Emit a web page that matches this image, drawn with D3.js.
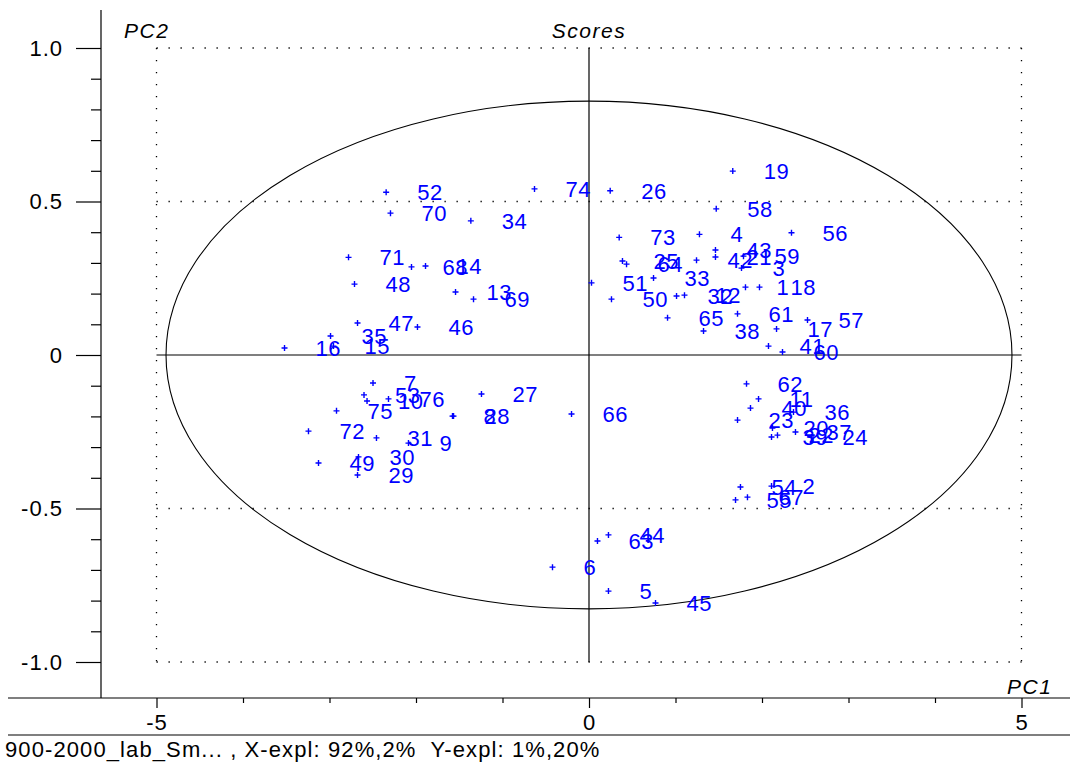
<!DOCTYPE html>
<html>
<head>
<meta charset="utf-8">
<script src="https://cdn.jsdelivr.net/npm/d3@7"></script>
<style>
  html, body { margin: 0; padding: 0; background: #fff; }
  svg { display: block; }
  text { font-family: Arial, "Liberation Sans", sans-serif; }
</style>
</head>
<body>
<svg id="chart" width="1070" height="764"></svg>
<script>
// PCA score plot: sample id, PC1 score, PC2 score
const sampleIds = [19, 26, 74, 52, 70, 34, 58, 73, 4, 56,
  43, 42, 21, 59, 3, 25, 64, 33, 51, 50,
  32, 12, 1, 18, 65, 38, 61, 17, 57, 41,
  60, 71, 68, 14, 48, 13, 69, 47, 46, 35,
  15, 16, 7, 53, 10, 76, 75, 72, 31, 9,
  8, 28, 27, 66, 49, 30, 29, 62, 11, 40,
  23, 36, 20, 37, 39, 22, 24, 54, 2, 55,
  67, 63, 44, 6, 5, 45];
const pc1Scores = [1.662, 0.245, -0.630, -2.345, -2.295, -1.366, 1.471, 0.349, 1.277, 2.341,
  1.462, 1.243, 1.462, 1.786, 1.763, 0.387, 0.434, 0.746, 0.029, 0.260,
  1.012, 1.104, 1.809, 1.971, 0.908, 1.324, 1.717, 2.168, 2.526, 2.075,
  2.237, -2.780, -2.052, -1.890, -2.711, -1.543, -1.335, -2.676, -1.983, -2.988,
  -2.954, -3.520, -2.497, -2.601, -2.566, -2.318, -2.919, -3.243, -2.457, -2.087,
  -1.578, -1.566, -1.243, -0.202, -3.127, -2.665, -2.676, 1.821, 1.960, 1.867,
  1.717, 2.364, 2.121, 2.387, 2.110, 2.179, 2.572, 1.751, 2.110, 1.694,
  1.832, 0.098, 0.225, -0.422, 0.225, 0.769];
const pc2Scores = [0.599, 0.535, 0.541, 0.530, 0.462, 0.437, 0.476, 0.383, 0.393, 0.398,
  0.342, 0.309, 0.319, 0.322, 0.283, 0.306, 0.296, 0.251, 0.235, 0.182,
  0.192, 0.195, 0.221, 0.221, 0.121, 0.078, 0.134, 0.085, 0.114, 0.029,
  0.010, 0.318, 0.287, 0.290, 0.231, 0.205, 0.182, 0.104, 0.091, 0.062,
  0.029, 0.023, -0.091, -0.130, -0.150, -0.143, -0.182, -0.248, -0.270, -0.287,
  -0.199, -0.199, -0.127, -0.192, -0.352, -0.332, -0.391, -0.094, -0.143, -0.173,
  -0.212, -0.186, -0.238, -0.251, -0.267, -0.261, -0.267, -0.430, -0.427, -0.472,
  -0.463, -0.606, -0.586, -0.691, -0.769, -0.808];

// Axis ticks
const xMajorTicks = [-5, 0, 5];
const xMinorTicks = [-4, -3, -2, -1, 1, 2, 3, 4];
const yMajorTicks = [-1.0, -0.5, 0, 0.5, 1.0];
const yTickLabels = ["-1.0", "-0.5", "0", "0.5", "1.0"];
const yMinorTicks = [-0.9, -0.8, -0.7, -0.6, -0.4, -0.3, -0.2, -0.1, 0.1, 0.2, 0.3, 0.4, 0.6, 0.7, 0.8, 0.9];

// Hotelling-style confidence ellipse half-axes
const ellipseRadii = [4.89, 0.827];

const titleText = "Scores";
const xName = "PC1";
const yName = "PC2";
const footerText = "900-2000_lab_Sm... , X-expl: 92%,2%  Y-expl: 1%,20%";

const svg = d3.select("#chart");
const W = 1070, H = 764;

const x = d3.scaleLinear().domain([-5, 5]).range([156.5, 1021.5]);
const y = d3.scaleLinear().domain([-1, 1]).range([662, 48]);

const axisLeftX = 101;
const axisBottomY = 698;

const ink = "#000";
const blue = "#0000ff";

// Dotted reference frame
const dot = "1.3 10.7";
const grid = svg.append("g").attr("stroke", ink).attr("stroke-width", 1.3)
  .attr("stroke-dasharray", dot).attr("fill", "none");
[1.0, 0.5, -0.5, -1.0].forEach(v => {
  grid.append("line").attr("x1", x(-5)).attr("x2", x(5))
    .attr("y1", y(v)).attr("y2", y(v));
});
[-5, 5].forEach(v => {
  grid.append("line").attr("x1", x(v)).attr("x2", x(v))
    .attr("y1", y(1)).attr("y2", y(-1));
});

// Origin cross-hair
svg.append("line").attr("x1", x(0)).attr("x2", x(0)).attr("y1", y(1)).attr("y2", y(-1))
  .attr("stroke", ink).attr("stroke-width", 1.2);
svg.append("line").attr("x1", x(-5)).attr("x2", x(5)).attr("y1", y(0)).attr("y2", y(0))
  .attr("stroke", ink).attr("stroke-width", 1.2);

// Ellipse
svg.append("ellipse")
  .attr("cx", x(0)).attr("cy", y(0))
  .attr("rx", x(ellipseRadii[0]) - x(0))
  .attr("ry", y(0) - y(ellipseRadii[1]))
  .attr("fill", "none").attr("stroke", ink).attr("stroke-width", 1.1);

// Y axis
const yAxisG = svg.append("g").attr("transform", `translate(${axisLeftX},0)`);
yAxisG.call(d3.axisLeft(y).tickValues(yMajorTicks).tickSize(25).tickPadding(13)
  .tickFormat((d, i) => yTickLabels[i]));
yAxisG.call(g => g.select(".domain").remove());
const yMinorG = svg.append("g").attr("transform", `translate(${axisLeftX},0)`);
yMinorG.call(d3.axisLeft(y).tickValues(yMinorTicks).tickSize(10).tickFormat(""));
yMinorG.call(g => g.select(".domain").remove());
svg.append("line").attr("x1", axisLeftX).attr("x2", axisLeftX).attr("y1", 10).attr("y2", axisBottomY)
  .attr("stroke", ink).attr("stroke-width", 1.2);

// X axis
const xAxisG = svg.append("g").attr("transform", `translate(0,${axisBottomY})`);
xAxisG.call(d3.axisBottom(x).tickValues(xMajorTicks).tickSize(10).tickPadding(6)
  .tickFormat(d => d === 0 ? "0" : String(d)));
xAxisG.call(g => g.select(".domain").remove());
const xMinorG = svg.append("g").attr("transform", `translate(0,${axisBottomY})`);
xMinorG.call(d3.axisBottom(x).tickValues(xMinorTicks).tickSize(5).tickFormat(""));
xMinorG.call(g => g.select(".domain").remove());
svg.append("line").attr("x1", 8).attr("x2", W).attr("y1", axisBottomY).attr("y2", axisBottomY)
  .attr("stroke", ink).attr("stroke-width", 1.2);

svg.selectAll(".tick line").attr("stroke", ink).attr("stroke-width", 1.2);
svg.selectAll(".tick text").attr("fill", ink)
  .style("font-size", "22px").style("letter-spacing", "1px")
  .style("font-family", "Arial, 'Liberation Sans', sans-serif");

// Footer separator and info line
svg.append("line").attr("x1", 8).attr("x2", W).attr("y1", 735).attr("y2", 735)
  .attr("stroke", ink).attr("stroke-width", 1.2);
svg.append("text").attr("x", 5).attr("y", 757).text(footerText)
  .attr("fill", ink).style("font-size", "22px").style("letter-spacing", "1.1px")
  .style("white-space", "pre");

// Titles
svg.append("text").attr("x", x(0)).attr("y", 38).attr("text-anchor", "middle")
  .attr("font-style", "italic").style("font-size", "21px").style("letter-spacing", "1.5px")
  .text(titleText);
svg.append("text").attr("x", 124).attr("y", 38)
  .attr("font-style", "italic").style("font-size", "21px").style("letter-spacing", "1.5px")
  .text(yName);
svg.append("text").attr("x", 1007).attr("y", 694)
  .attr("font-style", "italic").style("font-size", "21px").style("letter-spacing", "1.5px")
  .text(xName);

// Score points
const scores = sampleIds.map((id, i) => ({ id, pc1: pc1Scores[i], pc2: pc2Scores[i] }));
const pts = svg.append("g").selectAll("g.pt").data(scores).join("g")
  .attr("class", "pt")
  .attr("transform", d => `translate(${x(d.pc1)},${y(d.pc2)})`);
pts.append("path").attr("d", "M-3,0H3M0,-3V3")
  .attr("stroke", blue).attr("stroke-width", 1.4).attr("fill", "none");
pts.append("text").attr("x", 31).attr("y", 0).attr("dy", "0.36em")
  .attr("fill", blue).style("font-size", "22px").style("letter-spacing", "0.5px")
  .text(d => d.id);
</script>
</body>
</html>
